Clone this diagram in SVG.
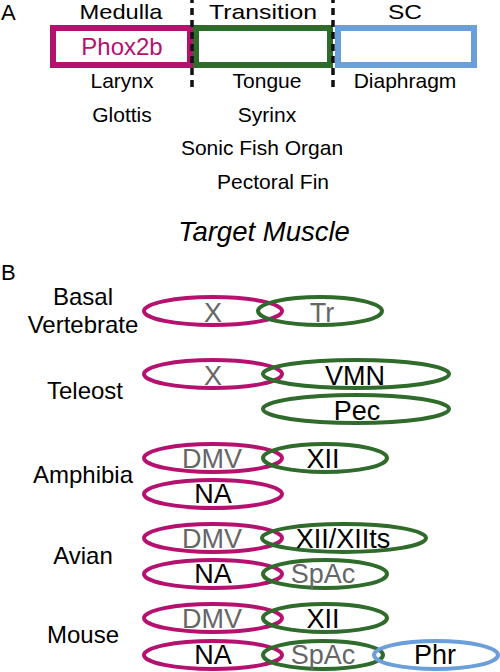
<svg xmlns="http://www.w3.org/2000/svg" width="500" height="672" viewBox="0 0 500 672">
<style>
text{font-family:"Liberation Sans",Arial,sans-serif;fill:#000;text-anchor:middle}
.hd{font-size:21px}
.ph{font-size:24px;fill:#b5116f}
.mu{font-size:21px}
.lb{font-size:24px}
.nl{font-size:27px}
.g{fill:#666}
.pan{font-size:22px;text-anchor:start}
.m{fill:none;stroke:#b5116f}
.gr{fill:none;stroke:#2f6b2b}
.bl{fill:none;stroke:#6b9fda}
.box{stroke-width:6}
.el{stroke-width:4}
.dash{stroke:#111;stroke-width:3.5;stroke-dasharray:7 5}
</style>
<rect width="500" height="672" fill="#fff"/>
<g id="panelA">
<text class="pan" x="1" y="20">A</text>
<text class="hd" x="121" y="19.2" textLength="83" lengthAdjust="spacingAndGlyphs">Medulla</text>
<text class="hd" x="263" y="19.2" textLength="108" lengthAdjust="spacingAndGlyphs">Transition</text>
<text class="hd" x="405" y="19.2" textLength="34" lengthAdjust="spacingAndGlyphs">SC</text>
<g id="medulla"><rect class="m box" x="53" y="28" width="137" height="37"/><text x="122" y="55" class="ph">Phox2b</text></g>
<g id="transition"><rect class="gr box" x="196" y="28" width="134" height="37"/></g>
<g id="sc"><rect class="bl box" x="338" y="28" width="136" height="37"/></g>
<g id="dividers">
<line class="dash" x1="192" y1="-4" x2="192" y2="88"/>
<line class="dash" x1="333" y1="-4" x2="333" y2="88"/>
</g>
<text class="mu" x="122" y="88">Larynx</text>
<text class="mu" x="267" y="88">Tongue</text>
<text class="mu" x="405" y="88">Diaphragm</text>
<text class="mu" x="122" y="122">Glottis</text>
<text class="mu" x="267" y="122">Syrinx</text>
<text class="mu" x="262" y="155">Sonic Fish Organ</text>
<text class="mu" x="273" y="189">Pectoral Fin</text>
<text x="264" y="241" style="font-size:27.5px;font-style:italic">Target Muscle</text>
</g>
<g id="panelB">
<text class="pan" x="1" y="280">B</text>
<text class="lb" x="83" y="305">Basal</text>
<text class="lb" x="83" y="333">Vertebrate</text>
<text class="lb" x="85" y="399">Teleost</text>
<text class="lb" x="83" y="483">Amphibia</text>
<text class="lb" x="83" y="564">Avian</text>
<text class="lb" x="83" y="643">Mouse</text>
</g>
<g id="basal-X"><ellipse class="m el" cx="213" cy="311" rx="69" ry="14"/><text class="nl g" x="213" y="322">X</text></g>
<g id="basal-Tr"><ellipse class="gr el" cx="320" cy="311" rx="62" ry="14"/><text class="nl g" x="322" y="322">Tr</text></g>
<g id="teleost-X"><ellipse class="m el" cx="213" cy="374" rx="69" ry="14"/><text class="nl g" x="213" y="385">X</text></g>
<g id="teleost-VMN"><ellipse class="gr el" cx="356" cy="374" rx="93" ry="14"/><text class="nl" x="355" y="385">VMN</text></g>
<g id="teleost-Pec"><ellipse class="gr el" cx="356" cy="409" rx="93" ry="14"/><text class="nl" x="357" y="420">Pec</text></g>
<g id="amph-DMV"><ellipse class="m el" cx="213" cy="458" rx="69" ry="14"/><text class="nl g" x="212" y="468">DMV</text></g>
<g id="amph-XII"><ellipse class="gr el" cx="325" cy="458" rx="62" ry="14"/><text class="nl" x="323" y="468">XII</text></g>
<g id="amph-NA"><ellipse class="m el" cx="213" cy="494" rx="69" ry="14"/><text class="nl" x="213" y="503">NA</text></g>
<g id="avian-DMV"><ellipse class="m el" cx="213" cy="538" rx="69" ry="14"/><text class="nl g" x="212" y="548">DMV</text></g>
<g id="avian-XII"><ellipse class="gr el" cx="344" cy="538" rx="82" ry="14"/><text class="nl" x="343" y="548">XII/XIIts</text></g>
<g id="avian-NA"><ellipse class="m el" cx="213" cy="574" rx="69" ry="14"/><text class="nl" x="213" y="583">NA</text></g>
<g id="avian-SpAc"><ellipse class="gr el" cx="325" cy="574" rx="62" ry="14"/><text class="nl g" x="323" y="583">SpAc</text></g>
<g id="mouse-DMV"><ellipse class="m el" cx="213" cy="618" rx="69" ry="14"/><text class="nl g" x="212" y="628">DMV</text></g>
<g id="mouse-XII"><ellipse class="gr el" cx="325" cy="618" rx="62" ry="14"/><text class="nl" x="323" y="628">XII</text></g>
<g id="mouse-NA"><ellipse class="m el" cx="213" cy="655" rx="69" ry="14"/><text class="nl" x="213" y="664">NA</text></g>
<g id="mouse-SpAc"><ellipse class="gr el" cx="323" cy="655" rx="60" ry="14"/><text class="nl g" x="323" y="664">SpAc</text></g>
<g id="mouse-Phr"><ellipse class="bl el" cx="436" cy="655" rx="62" ry="14"/><text class="nl" x="435" y="664">Phr</text></g>
<g id="connectors"/>
</svg>
